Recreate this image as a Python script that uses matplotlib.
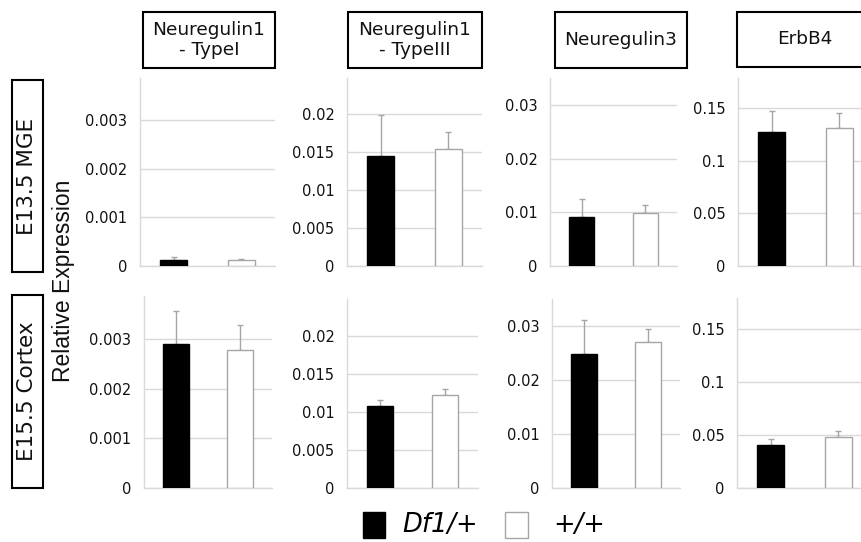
import matplotlib
matplotlib.use("Agg")
import matplotlib.pyplot as plt
from matplotlib.patches import Rectangle
from matplotlib.ticker import FuncFormatter

# === Data ===
genes = ["Neuregulin1\n- TypeI", "Neuregulin1\n- TypeIII", "Neuregulin3", "ErbB4"]
stages = ["E13.5 MGE", "E15.5 Cortex"]
groups = ["Df1/+", "+/+"]

df1_mean = [[0.00013, 0.0145, 0.0091, 0.128],
            [0.00289, 0.0107, 0.0248, 0.0406]]
df1_err = [[0.00006, 0.0054, 0.0033, 0.020],
           [0.00066, 0.0008, 0.0063, 0.0054]]
wt_mean = [[0.00012, 0.0154, 0.0098, 0.131],
           [0.00277, 0.0122, 0.0270, 0.0476]]
wt_err = [[0.00003, 0.0023, 0.0015, 0.015],
          [0.00050, 0.0008, 0.0025, 0.0063]]

yticks = [[0, 0.001, 0.002, 0.003],
          [0, 0.005, 0.01, 0.015, 0.02],
          [0, 0.01, 0.02, 0.03],
          [0, 0.05, 0.1, 0.15]]
ymax = [0.00386, 0.0248, 0.035, 0.179]

W, H = 862, 542
fig = plt.figure(figsize=(W / 100, H / 100), dpi=100)

def px_axes(l, t, r, b):
    return fig.add_axes([l / W, 1 - b / H, (r - l) / W, (b - t) / H])

def px_box(l, t, r, b, **kw):
    fig.patches.append(Rectangle((l / W, 1 - b / H), (r - l) / W, (b - t) / H,
                                 transform=fig.transFigure, figure=fig, **kw))

# axes extents in pixels (left, top, right, bottom)
panel_px = [
    [(140, 78, 275, 266), (347, 78, 482, 266), (550, 78, 677, 266), (738, 78, 873, 266)],
    [(144, 296, 272, 488), (347, 299, 478, 488), (552, 299, 680, 488), (737, 298, 872, 488)],
]

GRID = "#d9d9d9"
EDGE = "#a6a6a6"
fmt = FuncFormatter(lambda v, p: f"{v:g}")

for r in range(2):
    for c in range(4):
        ax = px_axes(*panel_px[r][c])
        ax.bar([0, 1], [df1_mean[r][c], wt_mean[r][c]], width=0.4,
               color=["black", "white"], edgecolor=["black", EDGE], linewidth=1, zorder=3)
        ax.errorbar([0, 1], [df1_mean[r][c], wt_mean[r][c]],
                    yerr=[[0, 0], [df1_err[r][c], wt_err[r][c]]],
                    fmt="none", ecolor=EDGE, elinewidth=1, capsize=2.5, zorder=2)
        ax.set_xlim(-0.5, 1.5)
        ax.set_ylim(0, ymax[c])
        ax.set_yticks(yticks[c])
        ax.yaxis.set_major_formatter(fmt)
        ax.set_xticks([])
        ax.grid(axis="y", color=GRID, linewidth=1, zorder=0)
        ax.set_axisbelow(True)
        for s in ["top", "right"]:
            ax.spines[s].set_visible(False)
        for s in ["left", "bottom"]:
            ax.spines[s].set_color(GRID)
            ax.spines[s].set_linewidth(1)
        ax.tick_params(axis="y", length=0, pad=9, labelsize=10.5, labelcolor="#111111")

# gene title boxes
title_px = [(143, 12, 275, 68), (348, 12, 482, 68), (555, 12, 687, 68), (737, 12, 872, 67)]
for g, (l, t, rr, b) in zip(genes, title_px):
    px_box(l, t, rr, b, facecolor="white", edgecolor="black", linewidth=1.5)
    fig.text((l + rr) / 2 / W, 1 - (t + b) / 2 / H, g, ha="center", va="center",
             fontsize=13.3, linespacing=1.12, color="#111111")

# stage boxes
stage_px = [(12, 80, 43, 272), (12, 295, 43, 488)]
for s, (l, t, rr, b) in zip(stages, stage_px):
    px_box(l, t, rr, b, facecolor="white", edgecolor="black", linewidth=1.5)
    fig.text((l + rr) / 2 / W, 1 - (t + b) / 2 / H, s, ha="center", va="center",
             rotation=90, fontsize=15.5, color="#111111")

fig.text(64 / W, 1 - 281 / H, "Relative Expression", rotation=90, ha="center", va="center",
         fontsize=16.5, family="Liberation Sans", color="#111111")

# legend
px_box(363, 512, 385, 538, facecolor="black", edgecolor="black", linewidth=1)
px_box(505, 512, 528, 538, facecolor="white", edgecolor=EDGE, linewidth=1)
fig.text(402 / W, 1 - 525 / H, groups[0], ha="left", va="center", fontsize=18.5, style="italic")
fig.text(553 / W, 1 - 525 / H, groups[1], ha="left", va="center", fontsize=18.5, style="italic")

fig.savefig("out.png", dpi=100)
